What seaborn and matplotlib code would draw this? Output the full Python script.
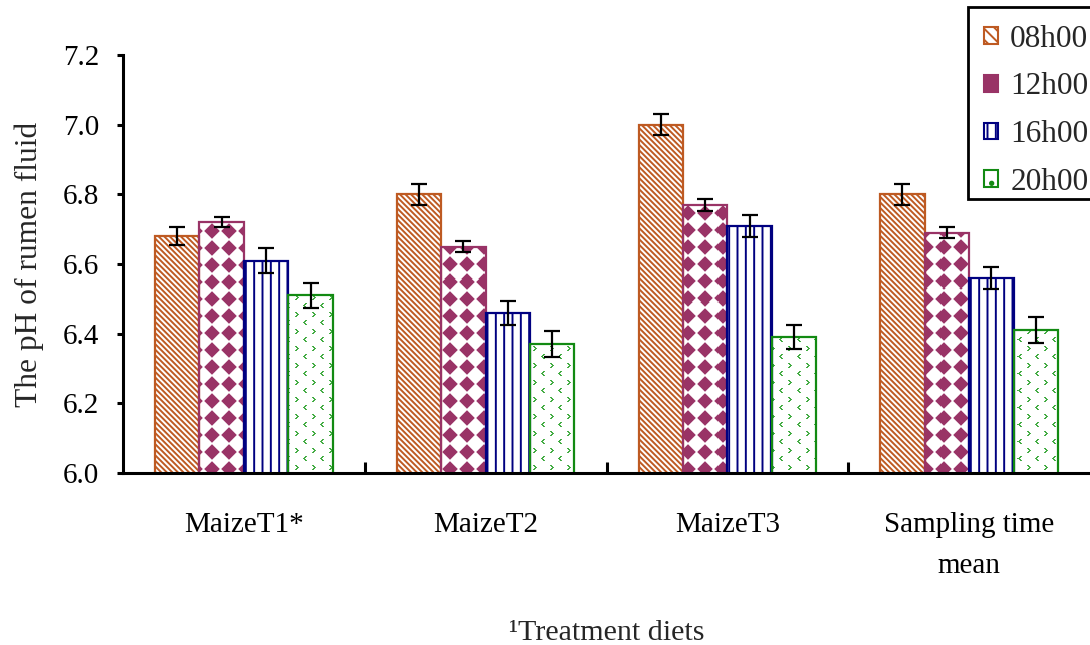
import numpy as np
import pandas as pd
import matplotlib
matplotlib.use("Agg")
import matplotlib.pyplot as plt
import seaborn as sns
from matplotlib.patches import Patch, Rectangle

# ---------------- data ----------------
categories = ["MaizeT1*", "MaizeT2", "MaizeT3", "Sampling time\nmean"]
times = ["08h00", "12h00", "16h00", "20h00"]
ph_08 = [6.68, 6.80, 7.00, 6.80]
ph_12 = [6.72, 6.65, 6.77, 6.69]
ph_16 = [6.61, 6.46, 6.71, 6.56]
ph_20 = [6.51, 6.37, 6.39, 6.41]
err_08 = [0.026, 0.030, 0.030, 0.030]
err_12 = [0.015, 0.015, 0.018, 0.015]
err_16 = [0.035, 0.035, 0.032, 0.031]
err_20 = [0.035, 0.037, 0.035, 0.038]
y_ticks = [6.0, 6.2, 6.4, 6.6, 6.8, 7.0, 7.2]
y_label = "The pH of rumen fluid"
x_label = "\u00b9Treatment diets"

values = [ph_08, ph_12, ph_16, ph_20]
errors = [err_08, err_12, err_16, err_20]

# ---------------- style ----------------
colors = ["#BE5A22", "#993366", "#000080", "#128A12"]
dot_green = "#3AA83A"
hatches = ["\\\\\\\\\\\\", None, "||", None]

sns.set_theme(style="white")
plt.rcParams["font.family"] = ["Liberation Serif", "DejaVu Serif"]
plt.rcParams["hatch.linewidth"] = 1.4
FS = 21

W_PX, H_PX = 1090, 645
fig = plt.figure(figsize=(W_PX / 100, H_PX / 100), dpi=100)
ax_left, ax_right, ax_top, ax_bot = 123, 1090, 55, 473
ax = fig.add_axes([ax_left / W_PX, 1 - ax_bot / H_PX,
                   (ax_right - ax_left) / W_PX, (ax_bot - ax_top) / H_PX])

rows = []
for t, vals in zip(times, values):
    for c, v in zip(categories, vals):
        rows.append({"diet": c, "time": t, "ph": v})
df = pd.DataFrame(rows)

sns.barplot(data=df, x="diet", y="ph", hue="time", order=categories,
            hue_order=times, width=0.735, gap=0, errorbar=None,
            palette=["white"] * 4, saturation=1, legend=False, ax=ax)

ax.set_xlim(-0.5, 3.5)
ax.set_ylim(y_ticks[0], y_ticks[-1])

Hpx, Wpx = ax_bot - ax_top, ax_right - ax_left

# diamond pattern image for 12h00
yy, xx = np.mgrid[0:Hpx, 0:Wpx].astype(float)
p = 17.0
dx = ((xx + 5) % p) - p / 2
dy = ((yy + 3) % p) - p / 2
d = np.abs(dx) + np.abs(dy)
alpha = np.clip(1.0 - np.clip((d - (p * 0.41)) / 1.5, 0, 1), 0, 1)
img_diamond = np.zeros((Hpx, Wpx, 4))
img_diamond[..., :3] = matplotlib.colors.to_rgb(colors[1])
img_diamond[..., 3] = alpha

# small chevron pattern image for 20h00
tile = np.zeros((17, 17))
gt = np.array([[1, 1, 0, 0],
               [0, 1, 1, 0],
               [0, 0, 1, 1],
               [0, 1, 1, 0],
               [1, 1, 0, 0]], dtype=float)
tile[2:7, 2:6] = gt
tile[10:15, 10:14] = gt[:, ::-1]
mask = np.tile(tile, (Hpx // 17 + 1, Wpx // 17 + 1))[:Hpx, :Wpx]
img_dots = np.zeros((Hpx, Wpx, 4))
img_dots[..., :3] = matplotlib.colors.to_rgb(dot_green)
img_dots[..., 3] = mask * 0.95
pattern_imgs = {1: img_diamond, 3: img_dots}

bar_containers = list(ax.containers)
for i, cont in enumerate(bar_containers):
    for patch in cont.patches:
        patch.set_edgecolor(colors[i])
        patch.set_linewidth(1.6)
        if i in pattern_imgs:
            patch.set_facecolor("none")
            im = ax.imshow(pattern_imgs[i],
                           extent=(-0.5, 3.5, y_ticks[0], y_ticks[-1]),
                           aspect="auto", interpolation="nearest", zorder=0.9)
            im.set_clip_path(patch)
        else:
            patch.set_facecolor("white")
            patch.set_hatch(hatches[i])
    xs = [pt.get_x() + pt.get_width() / 2 for pt in cont.patches]
    ax.errorbar(xs, values[i], yerr=errors[i], fmt="none", ecolor="black",
                elinewidth=1.6, capsize=5.5, capthick=1.6, zorder=4)

ax.set_xlim(-0.5, 3.5)
ax.set_ylim(y_ticks[0], y_ticks[-1])

# axes styling
for s in ["top", "right"]:
    ax.spines[s].set_visible(False)
for s in ["left", "bottom"]:
    ax.spines[s].set_linewidth(2.2)
    ax.spines[s].set_color("black")

ax.set_yticks(y_ticks)
ax.set_yticklabels([f"{v:.1f}" for v in y_ticks], fontsize=FS)
ax.tick_params(axis="y", direction="out", length=4, width=2.2, pad=13,
               colors="black", left=True)
ax.set_xticks(range(len(categories)))
ax.set_xticklabels(categories, fontsize=FS, linespacing=1.75)
ax.tick_params(axis="x", which="major", length=0, pad=28, colors="black")
ax.set_xticks([0.5, 1.5, 2.5], minor=True)
ax.tick_params(axis="x", which="minor", direction="in", length=8, width=2.2,
               bottom=True, colors="black")

ax.set_xlabel(x_label, fontsize=21.6)
ax.xaxis.set_label_coords(0.5, -0.352)
ax.set_ylabel(y_label, fontsize=22.7)
ax.yaxis.set_label_coords(-0.082, 0.5)

# legend (entries) + its frame drawn as a figure rectangle
handles = [
    Patch(facecolor="white", edgecolor=colors[0], hatch="\\\\\\", linewidth=1.5),
    Patch(facecolor=colors[1], edgecolor=colors[1], linewidth=1.5),
    Patch(facecolor="white", edgecolor=colors[2], hatch="||", linewidth=1.5),
    Patch(facecolor="white", edgecolor=colors[3], hatch=".", linewidth=1.5),
]
leg = fig.legend(handles, times, loc="upper left",
                 bbox_to_anchor=(968 / W_PX, 1 - 9 / H_PX),
                 bbox_transform=fig.transFigure, frameon=False,
                 fontsize=22.5,
                 handlelength=0.45, handleheight=0.45, handletextpad=0.4,
                 labelspacing=0.6, borderpad=0.5, borderaxespad=0)
frame = Rectangle((968 / W_PX, 1 - 199 / H_PX), (1100 - 968) / W_PX,
                  (199 - 7) / H_PX, transform=fig.transFigure, fill=True,
                  facecolor="white", edgecolor="black", linewidth=2.0,
                  zorder=0)
fig.patches.append(frame)

fig.savefig("out.png", dpi=100)
